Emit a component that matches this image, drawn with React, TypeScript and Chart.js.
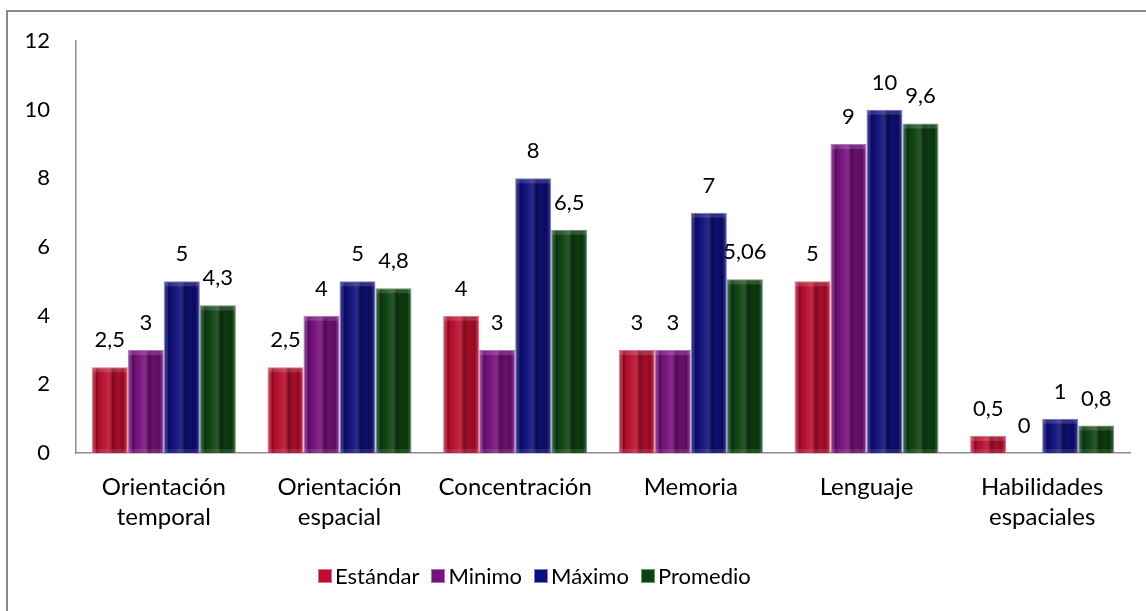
import React, { useEffect, useRef } from "react";
import { Chart, registerables } from "chart.js";

Chart.register(...registerables);

// Áreas evaluadas (eje X)
const categories: string[][] = [
  ["Orientación", "temporal"],
  ["Orientación", "espacial"],
  ["Concentración"],
  ["Memoria"],
  ["Lenguaje"],
  ["Habilidades", "espaciales"],
];

// Puntajes por serie
const estandar = [2.5, 2.5, 4, 3, 5, 0.5];
const minimo = [3, 4, 3, 3, 9, 0];
const maximo = [5, 5, 8, 7, 10, 1];
const promedio = [4.3, 4.8, 6.5, 5.06, 9.6, 0.8];

const seriesNames = ["Estándar", "Minimo", "Máximo", "Promedio"];
const seriesColors = ["#bd0f2e", "#78117d", "#0f0f7c", "#0e4311"];
const seriesBorders = ["#e0708a", "#b070c0", "#7a7ad0", "#6a9a6a"];

const yTicks = [0, 2, 4, 6, 8, 10, 12];

const FONT = "Lato, 'Noto Sans', sans-serif";

const fmt = (v: number) => String(v).replace(".", ",");

// Sombreado en relieve de cada barra (bisel vertical)
const bevelPlugin = {
  id: "bevel",
  afterDatasetsDraw(chart: any) {
    const ctx = chart.ctx;
    chart.data.datasets.forEach((_ds: any, i: number) => {
      const meta = chart.getDatasetMeta(i);
      meta.data.forEach((bar: any) => {
        const { x, y, base, width } = bar.getProps(["x", "y", "base", "width"], true);
        const h = base - y;
        if (h < 1) return;
        const left = x - width / 2;
        const g = ctx.createLinearGradient(left, 0, left + width, 0);
        g.addColorStop(0, "rgba(255,255,255,0.28)");
        g.addColorStop(0.07, "rgba(255,255,255,0.10)");
        g.addColorStop(0.13, "rgba(0,0,0,0.30)");
        g.addColorStop(0.22, "rgba(0,0,0,0.05)");
        g.addColorStop(0.42, "rgba(255,255,255,0.08)");
        g.addColorStop(0.58, "rgba(0,0,0,0.34)");
        g.addColorStop(0.72, "rgba(0,0,0,0.12)");
        g.addColorStop(0.88, "rgba(0,0,0,0.24)");
        g.addColorStop(1, "rgba(255,255,255,0.18)");
        ctx.save();
        ctx.fillStyle = g;
        ctx.fillRect(left + 1, y + 1, width - 2, h - 1);
        // borde superior e inferior del bisel
        const bevel = Math.min(4, h / 3);
        ctx.fillStyle = "rgba(255,255,255,0.15)";
        ctx.fillRect(left + 1, y + 1, width - 2, bevel);
        ctx.fillStyle = "rgba(255,255,255,0.10)";
        ctx.fillRect(left + 1, base - bevel, width - 2, bevel);
        ctx.restore();
      });
    });
  },
};

// Etiquetas de valor sobre cada barra
const valueLabelPlugin = {
  id: "valueLabels",
  afterDatasetsDraw(chart: any) {
    const ctx = chart.ctx;
    ctx.save();
    ctx.font = `22px ${FONT}`;
    ctx.fillStyle = "#000";
    ctx.textAlign = "center";
    ctx.textBaseline = "alphabetic";
    chart.data.datasets.forEach((ds: any, i: number) => {
      const meta = chart.getDatasetMeta(i);
      meta.data.forEach((bar: any, j: number) => {
        ctx.fillText(fmt(ds.data[j]), bar.x, bar.y - 20);
      });
    });
    ctx.restore();
  },
};

export default function App() {
  const canvasRef = useRef<HTMLCanvasElement>(null);

  useEffect(() => {
    if (!canvasRef.current) return;
    const data = [estandar, minimo, maximo, promedio];
    const chart = new Chart(canvasRef.current, {
      type: "bar",
      data: {
        labels: categories,
        datasets: data.map((d, i) => ({
          label: seriesNames[i],
          data: d,
          backgroundColor: seriesColors[i],
          borderColor: seriesBorders[i],
          borderWidth: 1,
          categoryPercentage: 0.82,
          barPercentage: 1,
        })),
      },
      options: {
        responsive: false,
        animation: false,
        layout: { padding: { top: 41, right: 16, left: 0, bottom: 0 } },
        plugins: {
          legend: { display: false },
          tooltip: { enabled: false },
        },
        scales: {
          x: {
            grid: { display: false, drawTicks: false },
            border: { display: true, color: "#8c8c8c", width: 1.5 },
            ticks: {
              color: "#000",
              font: { family: FONT, size: 24, lineHeight: 1.22 },
              padding: 20,
              maxRotation: 0,
              autoSkip: false,
            },
            afterFit: (scale: any) => {
              scale.height = 158;
            },
          },
          y: {
            min: 0,
            max: 12,
            afterBuildTicks: (scale: any) => {
              scale.ticks = yTicks.map((v) => ({ value: v }));
            },
            grid: { display: false, drawTicks: false },
            border: { display: true, color: "#8c8c8c", width: 1.5 },
            ticks: {
              color: "#000",
              font: { family: FONT, size: 22 },
              padding: 26,
            },
            afterFit: (scale: any) => {
              scale.width = 76;
            },
          },
        },
      },
      plugins: [bevelPlugin, valueLabelPlugin],
    });
    return () => chart.destroy();
  }, []);

  return (
    <div
      style={{
        position: "fixed",
        left: 0,
        top: 0,
        width: 1146,
        height: 611,
        overflow: "hidden",
        background: "#fff",
        fontFamily: FONT,
      }}
    >
      <div
        style={{
          position: "absolute",
          left: 6,
          top: 10,
          width: 1300,
          height: 800,
          borderLeft: "2px solid #8a8a8a",
          borderTop: "2px solid #8a8a8a",
        }}
      />
      <canvas
        ref={canvasRef}
        width={1146}
        height={611}
        style={{ position: "absolute", left: 0, top: 0 }}
      />
      <div
        style={{
          position: "absolute",
          left: 318,
          top: 562,
          display: "flex",
          alignItems: "center",
          fontSize: 22,
          color: "#000",
          lineHeight: "28px",
        }}
      >
        {seriesNames.map((name, i) => (
          <div key={name} style={{ display: "flex", alignItems: "center", marginRight: 12 }}>
            <span
              style={{
                display: "inline-block",
                width: 14,
                height: 14,
                background: seriesColors[i],
                marginRight: 3,
                boxShadow: `inset 0 0 0 1px ${seriesBorders[i]}`,
              }}
            />
            <span>{name}</span>
          </div>
        ))}
      </div>
    </div>
  );
}
